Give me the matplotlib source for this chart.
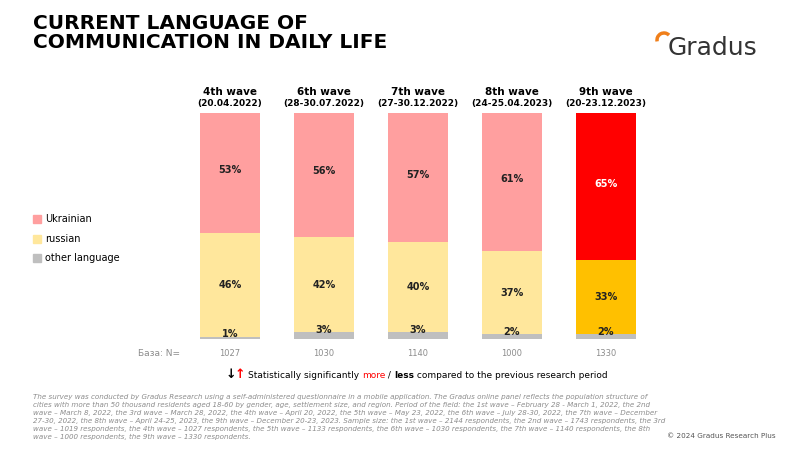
import matplotlib
matplotlib.use("Agg")
import matplotlib.pyplot as plt
from matplotlib.patches import Rectangle, Arc

waves = ["4th wave", "6th wave", "7th wave", "8th wave", "9th wave"]
dates = ["(20.04.2022)", "(28-30.07.2022)", "(27-30.12.2022)", "(24-25.04.2023)", "(20-23.12.2023)"]
other = [1, 3, 3, 2, 2]
russian = [46, 42, 40, 37, 33]
ukrainian = [53, 56, 57, 61, 65]
base_n = [1027, 1030, 1140, 1000, 1330]

fig = plt.figure(figsize=(8, 4.5), dpi=100)
W, H = 800, 450
ax = fig.add_axes([183 / W, (450 - 339) / H, 470 / W, 226 / H])
ax.set_xlim(-0.5, 4.5)
ax.set_ylim(0, 100)
ax.axis("off")

x = list(range(len(waves)))
bw = 60 / 94
pink, yellow, grey = "#FF9F9F", "#FFE79C", "#BFBFBF"
for i in x:
    last = i == len(x) - 1
    cu = "#FF0000" if last else pink
    cr = "#FFC000" if last else yellow
    ax.bar(i, other[i], bw, color=grey)
    ax.bar(i, russian[i], bw, bottom=other[i], color=cr)
    ax.bar(i, ukrainian[i], bw, bottom=other[i] + russian[i], color=cu)
    ax.text(i, other[i] + russian[i] / 2, f"{russian[i]}%", ha="center", va="center", fontsize=7, fontweight="bold", color="#222222")
    ax.text(i, other[i] + russian[i] + ukrainian[i] * 0.52, f"{ukrainian[i]}%", ha="center", va="center", fontsize=7, fontweight="bold", color="white" if last else "#222222")
    ax.text(i, other[i] + 1.0, f"{other[i]}%", ha="center", va="center", fontsize=7, fontweight="bold", color="#222222")
    fx = (230 + 94 * i) / W
    fig.text(fx, 1 - 92 / H, waves[i], ha="center", va="center", fontsize=7.5, fontweight="bold")
    fig.text(fx, 1 - 104 / H, dates[i], ha="center", va="center", fontsize=6.5, fontweight="bold")
    fig.text(fx, 1 - 354 / H, str(base_n[i]), ha="center", va="center", fontsize=6, color="#8C8C8C")

fig.text(180 / W, 1 - 354 / H, "База: N=", ha="right", va="center", fontsize=6.5, color="#8C8C8C")

fig.text(33 / W, 1 - 33 / H, "CURRENT LANGUAGE OF\nCOMMUNICATION IN DAILY LIFE", ha="left", va="center",
         fontsize=14.5, fontweight="bold", linespacing=1.05)

# logo
fig.text(668 / W, 1 - 48 / H, "Gradus", ha="left", va="center", fontsize=18, color="#333333")
fig.patches.append(Arc((664 / W, 1 - 40 / H), 14 / W, 14 / H, theta1=60, theta2=200,
                       transform=fig.transFigure, color="#F07F1A", lw=2.5))

# legend
for lab, c, yy in [("Ukrainian", pink, 219), ("russian", yellow, 239), ("other language", grey, 258)]:
    fig.patches.append(Rectangle((33 / W, 1 - (yy + 4) / H), 8 / W, 8 / H, transform=fig.transFigure, color=c))
    fig.text(45 / W, 1 - yy / H, lab, ha="left", va="center", fontsize=7)

# significance note
fig.text(231 / W, 1 - 375 / H, "↓", ha="center", va="center", fontsize=9, fontweight="bold", color="black")
fig.text(240 / W, 1 - 375 / H, "↑", ha="center", va="center", fontsize=9, fontweight="bold", color="red")
t1 = fig.text(248 / W, 1 - 375 / H, "Statistically significantly ", ha="left", va="center", fontsize=6.5)
fig.canvas.draw()
r = fig.canvas.get_renderer()
bb = t1.get_window_extent(r)
t2 = fig.text(bb.x1 / W, 1 - 375 / H, "more", ha="left", va="center", fontsize=6.5, color="red")
bb = t2.get_window_extent(r)
t3 = fig.text(bb.x1 / W, 1 - 375 / H, " / ", ha="left", va="center", fontsize=6.5)
bb = t3.get_window_extent(r)
t4 = fig.text(bb.x1 / W, 1 - 375 / H, "less", ha="left", va="center", fontsize=6.5, fontweight="bold")
bb = t4.get_window_extent(r)
fig.text(bb.x1 / W, 1 - 375 / H, " compared to the previous research period", ha="left", va="center", fontsize=6.5)

note = ("The survey was conducted by Gradus Research using a self-administered questionnaire in a mobile application. The Gradus online panel reflects the population structure of\n"
        "cities with more than 50 thousand residents aged 18-60 by gender, age, settlement size, and region. Period of the field: the 1st wave – February 28 - March 1, 2022, the 2nd\n"
        "wave – March 8, 2022, the 3rd wave – March 28, 2022, the 4th wave – April 20, 2022, the 5th wave – May 23, 2022, the 6th wave – July 28-30, 2022, the 7th wave – December\n"
        "27-30, 2022, the 8th wave – April 24-25, 2023, the 9th wave – December 20-23, 2023. Sample size: the 1st wave – 2144 respondents, the 2nd wave – 1743 respondents, the 3rd\n"
        "wave – 1019 respondents, the 4th wave – 1027 respondents, the 5th wave – 1133 respondents, the 6th wave – 1030 respondents, the 7th wave – 1140 respondents, the 8th\n"
        "wave – 1000 respondents, the 9th wave – 1330 respondents.")
fig.text(33 / W, 1 - 417 / H, note, ha="left", va="center", fontsize=5.1, style="italic", color="#8C8C8C", linespacing=1.35)
fig.text(776 / W, 1 - 436 / H, "© 2024 Gradus Research Plus", ha="right", va="center", fontsize=5.2, color="#555555")

fig.savefig("out.png", dpi=100)
